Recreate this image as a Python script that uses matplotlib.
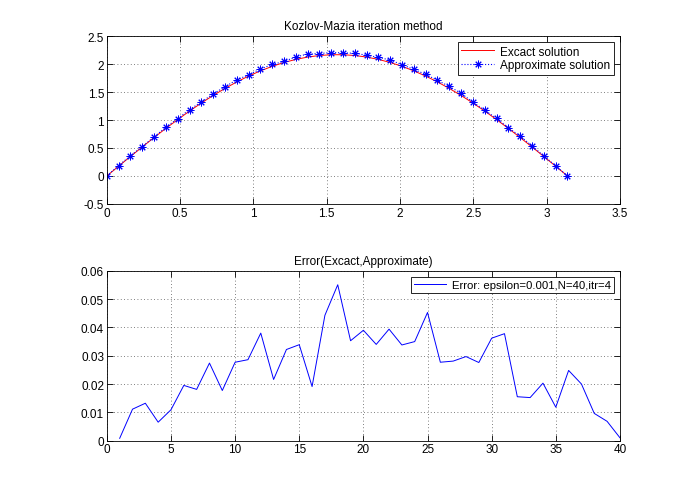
import numpy as np
import matplotlib
matplotlib.use("Agg")
import matplotlib.pyplot as plt
from matplotlib.ticker import FormatStrFormatter

plt.rcParams['font.family'] = ['Liberation Sans', 'DejaVu Sans']

# ---- data ----
n_nodes = 40
x_nodes = np.linspace(0, np.pi, n_nodes)

exact = [0.000, 0.175, 0.348, 0.519, 0.687, 0.851, 1.008, 1.160, 1.304, 1.439,
         1.565, 1.681, 1.786, 1.879, 1.960, 2.029, 2.084, 2.126, 2.154, 2.168,
         2.168, 2.154, 2.126, 2.084, 2.029, 1.960, 1.879, 1.786, 1.681, 1.565,
         1.439, 1.304, 1.160, 1.008, 0.851, 0.687, 0.519, 0.348, 0.175, 0.000]

approx = [0.001, 0.186, 0.361, 0.526, 0.698, 0.871, 1.026, 1.187, 1.322, 1.467,
          1.594, 1.719, 1.808, 1.911, 1.994, 2.048, 2.128, 2.181, 2.189, 2.207,
          2.202, 2.193, 2.160, 2.119, 2.074, 1.988, 1.907, 1.816, 1.709, 1.601,
          1.477, 1.320, 1.175, 1.028, 0.863, 0.712, 0.539, 0.358, 0.182, 0.001]

err_idx = list(range(1, 41))
err = [0.0008, 0.0111, 0.0132, 0.0065, 0.0109, 0.0195, 0.0181, 0.0274, 0.0177, 0.0277,
       0.0286, 0.0380, 0.0216, 0.0322, 0.0339, 0.0191, 0.0443, 0.0551, 0.0353, 0.0390,
       0.0340, 0.0394, 0.0338, 0.0350, 0.0453, 0.0277, 0.0281, 0.0297, 0.0276, 0.0362,
       0.0378, 0.0155, 0.0152, 0.0203, 0.0118, 0.0248, 0.0200, 0.0096, 0.0068, 0.0010]

top_xticks = [0, 0.5, 1, 1.5, 2, 2.5, 3, 3.5]
top_yticks = [-0.5, 0, 0.5, 1, 1.5, 2, 2.5]
bot_xticks = [0, 5, 10, 15, 20, 25, 30, 35, 40]
bot_yticks = [0, 0.01, 0.02, 0.03, 0.04, 0.05, 0.06]

fig = plt.figure(figsize=(6.85, 4.89), dpi=100)
ax1 = fig.add_axes([0.156, 0.581, 0.749, 0.343])
ax2 = fig.add_axes([0.156, 0.097, 0.749, 0.347])

def style(ax):
    ax.tick_params(direction='in', top=True, right=True, labelsize=8.5,
                   length=4, width=0.6, pad=2)
    for s in ax.spines.values():
        s.set_linewidth(0.6)
    ax.grid(True, linestyle=(0, (1, 3)), color='#555555', linewidth=0.6)
    ax.set_axisbelow(True)

ax1.plot(x_nodes, exact, color='red', linewidth=0.7, label='Excact solution')
ax1.plot(x_nodes, approx, color='blue', linestyle=':', linewidth=0.8,
         marker=(8, 2, 0), markersize=5.5, markeredgewidth=0.7,
         label='Approximate solution')
ax1.set_xlim(0, 3.5)
ax1.set_ylim(-0.5, 2.5)
ax1.set_xticks(top_xticks)
ax1.set_yticks(top_yticks)
ax1.xaxis.set_major_formatter(FormatStrFormatter('%g'))
ax1.yaxis.set_major_formatter(FormatStrFormatter('%g'))
ax1.set_title('Kozlov-Mazia iteration method', fontsize=8.5, pad=5)
style(ax1)
leg1 = ax1.legend(loc='upper right', fontsize=8.5, fancybox=False, framealpha=1,
                  edgecolor='black', borderpad=0.3, handlelength=2.8,
                  labelspacing=0.15, borderaxespad=0.5, handletextpad=0.5)
leg1.get_frame().set_linewidth(0.6)

ax2.plot(err_idx, err, color='blue', linewidth=0.7,
         label='Error: epsilon=0.001,N=40,itr=4')
ax2.set_xlim(0, 40)
ax2.set_ylim(0, 0.06)
ax2.set_xticks(bot_xticks)
ax2.set_yticks(bot_yticks)
ax2.xaxis.set_major_formatter(FormatStrFormatter('%g'))
ax2.yaxis.set_major_formatter(FormatStrFormatter('%g'))
ax2.set_title('Error(Excact,Approximate)', fontsize=8.5, pad=5)
style(ax2)
leg2 = ax2.legend(loc='upper right', fontsize=8.2, fancybox=False, framealpha=1,
                  edgecolor='black', borderpad=0.3, handlelength=2.8,
                  borderaxespad=0.5, handletextpad=0.5)
leg2.get_frame().set_linewidth(0.6)

fig.savefig('out.png', dpi=100)
